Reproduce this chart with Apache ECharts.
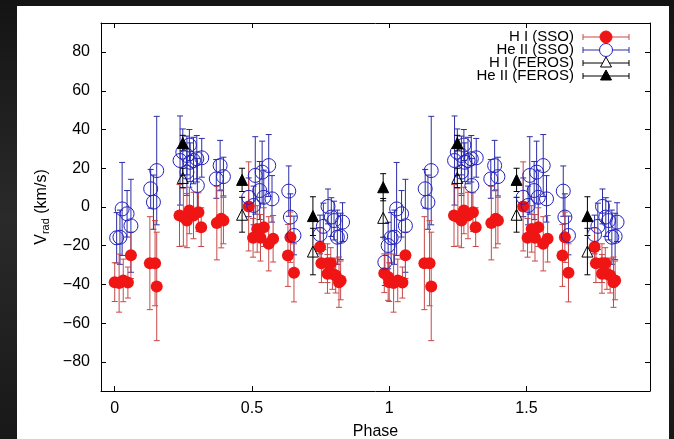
<!DOCTYPE html>
<html><head><meta charset="utf-8">
<script src="https://cdn.jsdelivr.net/npm/echarts@6/dist/echarts.min.js"></script>
<style>
html,body{margin:0;padding:0;width:674px;height:439px;overflow:hidden;background:linear-gradient(180deg,#141414 0%,#2a2a2a 50%,#181818 100%)}
#c{position:absolute;left:17px;top:6px;width:652px;height:433px;background:#fff}
</style>
</head><body><div id="c"></div>
<script>
// ---- data (phase in [0,1); plotted at phase and phase+1) ----
const xTicks = [0, 0.5, 1, 1.5];
const yTicks = [-80, -60, -40, -20, 0, 20, 40, 60, 80];

const hiSsoPhase = [0.000,0.016,0.031,0.048,0.059,0.128,0.147,0.153,0.236,0.250,0.263,0.272,0.287,0.305,0.315,0.372,0.388,0.396,0.488,0.504,0.519,0.531,0.543,0.561,0.577,0.631,0.640,0.653,0.748,0.753,0.775,0.787,0.775,0.793,0.805,0.817,0.823,0.982,0.996];
const hiSsoV     = [-38.8,-39.3,-37.9,-39.0,-24.9,-29.0,-29.0,-41.0,-4.4,-5.2,-7.0,-1.8,-4.4,-2.7,-10.4,-8.3,-6.1,-7.0,0.3,-15.9,-11.3,-15.9,-10.4,-19.0,-16.4,-25.0,-15.6,-34.0,-20.7,-29.0,-29.0,-29.0,-34.5,-34.5,-35.4,-38.8,-37.9,-34.2,-36.2];
const hiSsoErr   = [10,15,11,8,12,24,22,28,16,15,14,12,12,10,10,19,15,12,23,10,12,12,10,14,12,16,13,15,10,10,10,8,10,8,9,13,10,10,12];

const heSsoPhase = [0.007,0.019,0.027,0.045,0.059,0.131,0.141,0.153,0.238,0.248,0.263,0.272,0.275,0.287,0.299,0.317,0.301,0.263,0.370,0.384,0.396,0.488,0.506,0.512,0.528,0.537,0.543,0.561,0.573,0.634,0.640,0.653,0.748,0.760,0.777,0.789,0.799,0.811,0.830,0.823,0.984,0.996];
const heSsoV     = [-15.9,-15.6,-1.0,-3.5,-9.7,9.4,2.5,18.8,24.0,28.3,26.6,32.0,23.1,24.0,24.9,25.4,11.1,18.0,14.5,21.4,15.7,5.0,0.8,16.3,8.5,18.0,5.0,21.4,4.2,8.2,-5.2,-14.7,-14.2,-10.0,0.3,-5.2,-7.0,-15.6,-7.8,-15.2,-28.5,-19.9];
const heSsoErr   = [13,14,24,12,24,10,14,28,23,12,10,8,10,12,12,10,14,12,10,13,10,10,10,20,15,16,14,16,12,13,12,10,10,12,9,10,10,14,10,12,12,12];

const hiFerosPhase = [0.248,0.464,0.722,0.978];
const hiFerosV     = [15.0,-4.0,-23.0,-5.6];
const hiFerosErr   = [5,9,12,10];

const heFerosPhase = [0.248,0.464,0.722,0.978];
const heFerosV     = [33.0,14.0,-4.7,10.2];
const heFerosErr   = [4,6,10,7];

const xMin = -0.05, xMax = 1.95, yMin = -95, yMax = 95;

function fold(ph, v, e) {
  const out = [];
  for (let k = 0; k < 2; k++) {
    for (let i = 0; i < ph.length; i++) {
      const x = ph[i] + k;
      if (x >= xMin && x <= xMax) out.push([x, v[i], e[i]]);
    }
  }
  return out;
}
const dHiSso = fold(hiSsoPhase, hiSsoV, hiSsoErr);
const dHeSso = fold(heSsoPhase, heSsoV, heSsoErr);
const dHiFe = fold(hiFerosPhase, hiFerosV, hiFerosErr);
const dHeFe = fold(heFerosPhase, heFerosV, heFerosErr);

const RED = '#f01515', REDBAR = '#c84848', BLUE = '#2222c0', BLUEBAR = '#2c2ca8', BLK = '#000';

function errSeries(data, color, z) {
  return {
    type: 'custom', data: data, z: z, silent: true,
    encode: { x: 0, y: 1 },
    renderItem: function (params, api) {
      const x = api.value(0), y = api.value(1), e = api.value(2);
      const lo = api.coord([x, y - e]), hi = api.coord([x, y + e]);
      const c = 3, st = { stroke: color, lineWidth: 1 };
      return { type: 'group', children: [
        { type: 'line', shape: { x1: lo[0], y1: lo[1], x2: hi[0], y2: hi[1] }, style: st },
        { type: 'line', shape: { x1: lo[0] - c, y1: lo[1], x2: lo[0] + c, y2: lo[1] }, style: st },
        { type: 'line', shape: { x1: hi[0] - c, y1: hi[1], x2: hi[0] + c, y2: hi[1] }, style: st }
      ]};
    }
  };
}
function markSeries(data, symbol, size, fill, border, z) {
  return {
    type: 'scatter', data: data.map(d => [d[0], d[1]]), symbol: symbol, symbolSize: size, z: z,
    silent: true,
    itemStyle: { color: fill, borderColor: border, borderWidth: border === 'none' ? 0 : 1, opacity: 1 },
    emphasis: { disabled: true }
  };
}

const FONT = 'Liberation Sans, Arial, Helvetica, sans-serif';
const FS = 16;
const chart = echarts.init(document.getElementById('c'), null, { renderer: 'canvas' });

// legend (drawn as graphic)
const legRows = [
  { t: 'H I (SSO)', c: REDBAR, sym: 'circle', fill: RED, stroke: null, r: 6 },
  { t: 'He II (SSO)', c: BLUEBAR, sym: 'circle', fill: '#fff', stroke: BLUE, r: 6.5 },
  { t: 'H I (FEROS)', c: BLK, sym: 'tri', fill: '#fff', stroke: BLK, r: 5.5 },
  { t: 'He II (FEROS)', c: BLK, sym: 'tri', fill: BLK, stroke: BLK, r: 5.5 }
];
const legY = [31, 44, 57, 70];
const graphics = [];
legRows.forEach((r, i) => {
  const y = legY[i];
  graphics.push({ type: 'text', x: 557, y: y, z: 100, style: { text: r.t, font: '15px ' + FONT, fill: '#000', textAlign: 'right', textVerticalAlign: 'middle' } });
  const st = { stroke: r.c, lineWidth: 1 };
  graphics.push({ type: 'line', z: 100, shape: { x1: 566, y1: y, x2: 612, y2: y }, style: st });
  graphics.push({ type: 'line', z: 100, shape: { x1: 566, y1: y - 3, x2: 566, y2: y + 3 }, style: st });
  graphics.push({ type: 'line', z: 100, shape: { x1: 612, y1: y - 3, x2: 612, y2: y + 3 }, style: st });
  if (r.sym === 'circle') {
    graphics.push({ type: 'circle', z: 101, shape: { cx: 589, cy: y, r: r.r }, style: { fill: r.fill, stroke: r.stroke || r.fill, lineWidth: 1 } });
  } else {
    graphics.push({ type: 'polygon', z: 101, shape: { points: [[589, y - 6], [583.5, y + 4], [594.5, y + 4]] }, style: { fill: r.fill, stroke: r.stroke, lineWidth: 1 } });
  }
});

const axisCommon = {
  axisLine: { show: true, onZero: false, lineStyle: { color: '#000', width: 1 } },
  splitLine: { show: false }
};

chart.setOption({
  animation: false,
  backgroundColor: '#fff',
  grid: { left: 84, top: 17, right: 19, bottom: 48, containLabel: false, outerBoundsMode: 'none' },
  xAxis: [
    Object.assign({
      type: 'value', min: xMin, max: xMax, position: 'bottom',
      name: 'Phase', nameLocation: 'middle', nameGap: 33,
      nameTextStyle: { fontSize: FS, fontFamily: FONT, color: '#000' },
      axisTick: { show: true, inside: true, length: 5, customValues: xTicks, lineStyle: { color: '#000' } },
      axisLabel: { show: true, customValues: xTicks, fontSize: FS, fontFamily: FONT, color: '#000', margin: 10, formatter: v => String(v) }
    }, axisCommon),
    Object.assign({
      type: 'value', min: xMin, max: xMax, position: 'top',
      axisTick: { show: true, inside: true, length: 5, customValues: xTicks, lineStyle: { color: '#000' } },
      axisLabel: { show: false }
    }, axisCommon)
  ],
  yAxis: [
    Object.assign({
      type: 'value', min: yMin, max: yMax, position: 'left',
      name: '{a|V}{b|rad}{a| (km/s)}', nameLocation: 'middle', nameGap: 50, nameRotate: 90,
      nameTextStyle: { color: '#000', rich: {
        a: { fontSize: FS, fontFamily: FONT, color: '#000', lineHeight: 18, verticalAlign: 'middle' },
        b: { fontSize: 11, fontFamily: FONT, color: '#000', lineHeight: 18, verticalAlign: 'bottom', padding: [9, 0, 0, 0] }
      } },
      axisTick: { show: true, inside: true, length: 5, customValues: yTicks, lineStyle: { color: '#000' } },
      axisLabel: { show: true, customValues: yTicks, fontSize: FS, fontFamily: FONT, color: '#000', margin: 11, formatter: v => (v < 0 ? '\u2212' + Math.abs(v) : String(v)) }
    }, axisCommon),
    Object.assign({
      type: 'value', min: yMin, max: yMax, position: 'right',
      axisTick: { show: true, inside: true, length: 5, customValues: yTicks, lineStyle: { color: '#000' } },
      axisLabel: { show: false }
    }, axisCommon)
  ],
  graphic: graphics,
  series: [
    errSeries(dHeSso, BLUEBAR, 2),
    errSeries(dHiSso, REDBAR, 3),
    errSeries(dHiFe, BLK, 4),
    errSeries(dHeFe, BLK, 4),
    markSeries(dHiSso, 'circle', 12, RED, 'none', 5),
    markSeries(dHeSso, 'circle', 14, 'rgba(255,255,255,0)', BLUE, 6),
    markSeries(dHiFe, 'triangle', 11, 'rgba(255,255,255,0)', BLK, 7),
    markSeries(dHeFe, 'triangle', 11, BLK, BLK, 7)
  ]
});
</script>
</body></html>
